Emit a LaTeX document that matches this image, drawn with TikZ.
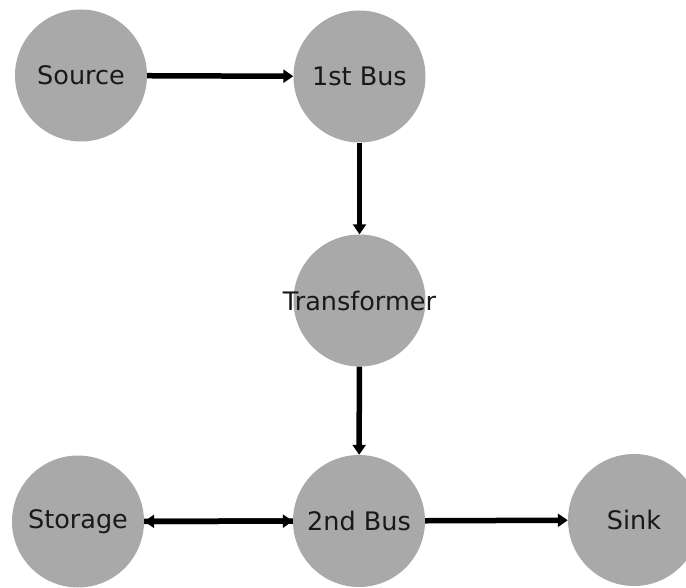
\documentclass[tikz,border=0pt]{standalone}
\usepackage{fontspec}
\setmainfont{DejaVu Sans}
\usetikzlibrary{arrows.meta}
\definecolor{nodegray}{HTML}{A9A9A9}
\begin{document}
\begin{tikzpicture}[x=1pt,y=1pt,
  busnode/.style={circle,fill=nodegray,minimum size=132pt,inner sep=0pt,
    label={[font=\fontsize{25.5}{30}\selectfont,text=black!90]center:#1}},
  flow/.style={line width=5.5pt,draw=black,
    -{Triangle[width=13pt,length=10pt]}}]
\useasboundingbox (0,0) rectangle (686,587);
\node[busnode=Source] (source) at (81,511.5) {};
\node[busnode=1st Bus] (bus1) at (359.5,510.5) {};
\node[busnode=Transformer] (trafo) at (359.5,286.5) {};
\node[busnode=2nd Bus] (bus2) at (359,66) {};
\node[busnode=Storage] (storage) at (78,65.5) {};
\node[busnode=Sink] (sink) at (634,67) {};
\draw[flow] (source) -- (bus1);
\draw[flow] (bus1) -- (trafo);
\draw[flow] (trafo) -- (bus2);
\draw[flow] (bus2) -- (sink);
\draw[flow] (storage) -- (bus2);
\draw[flow] (bus2) -- (storage);
\end{tikzpicture}
\end{document}
